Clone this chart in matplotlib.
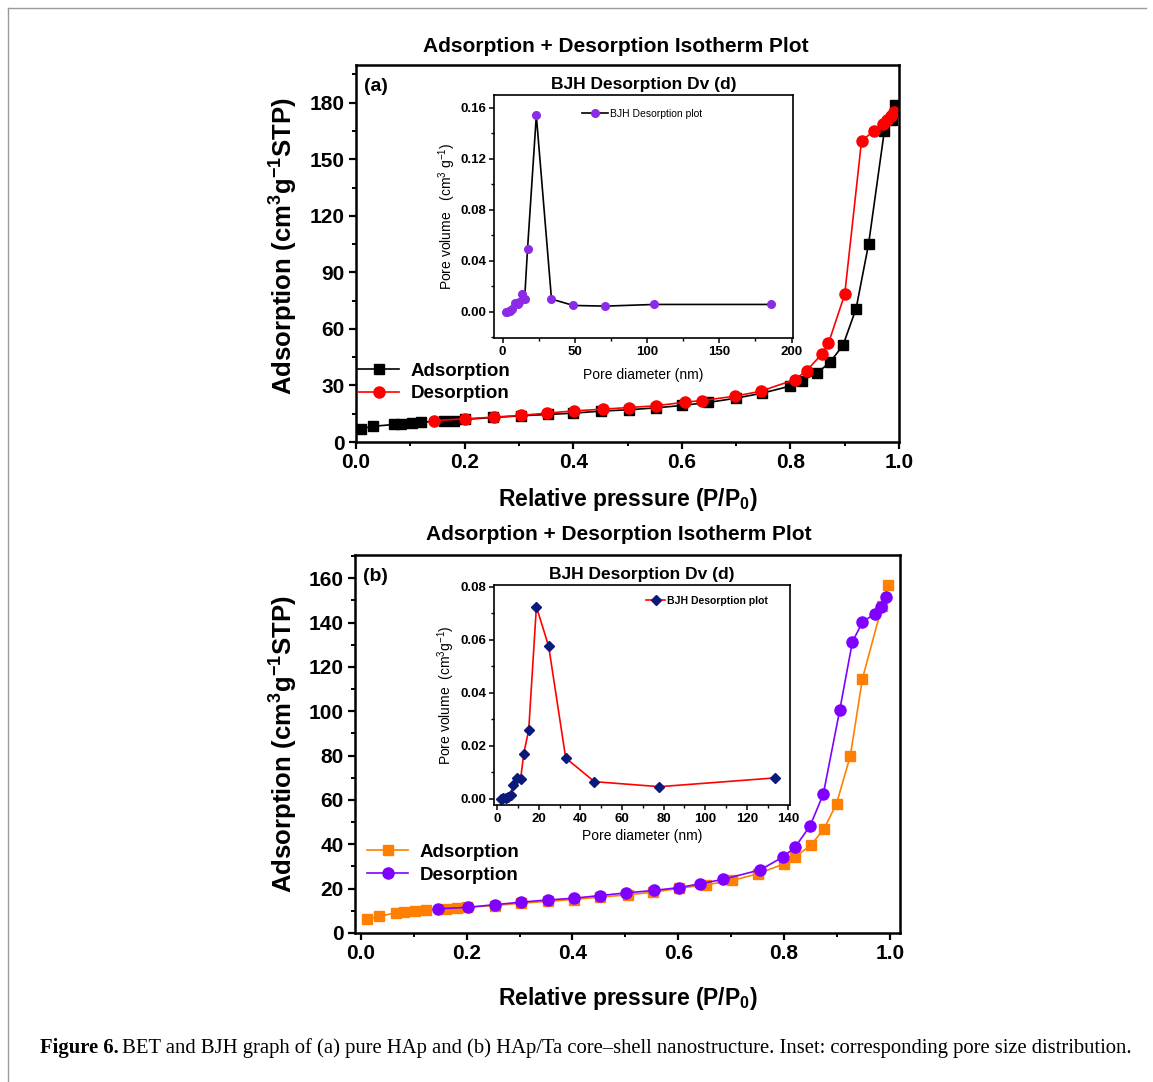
import numpy as np
import matplotlib
matplotlib.use('Agg')
import matplotlib.pyplot as plt
from matplotlib.lines import Line2D
from matplotlib.ticker import MultipleLocator

plt.rcParams['font.family'] = 'Liberation Sans'
plt.rcParams['mathtext.fontset'] = 'custom'
plt.rcParams['mathtext.rm'] = 'Liberation Sans'
plt.rcParams['mathtext.bf'] = 'Liberation Sans:bold'
plt.rcParams['mathtext.default'] = 'regular'

# === (a) pure HAp isotherm
a_ads_p = [0.009, 0.031, 0.07, 0.083, 0.104, 0.12, 0.162, 0.18, 0.2, 0.253, 0.303, 0.353,
           0.4, 0.452, 0.502, 0.552, 0.601, 0.649, 0.699, 0.748, 0.799, 0.822, 0.849, 0.873,
           0.897, 0.921, 0.944, 0.973, 0.988, 0.993]
a_ads_v = [7.0, 8.3, 9.3, 9.7, 10.0, 10.6, 10.9, 11.4, 12.0, 13.0, 13.9, 14.6,
           15.3, 16.4, 17.1, 18.1, 19.4, 21.0, 23.2, 25.9, 29.6, 32.6, 36.6, 42.3,
           51.4, 70.8, 105.0, 165.0, 171.0, 179.0]
a_des_p = [0.143, 0.2, 0.254, 0.303, 0.351, 0.401, 0.454, 0.503, 0.552, 0.605, 0.637, 0.698,
           0.745, 0.808, 0.83, 0.858, 0.87, 0.9, 0.931, 0.954, 0.97, 0.977, 0.986, 0.991]
a_des_v = [11.3, 12.3, 13.2, 14.1, 15.3, 16.5, 17.4, 18.3, 19.2, 21.1, 22.0, 24.3,
           26.9, 33.1, 37.9, 46.7, 52.3, 78.3, 159.7, 165.1, 168.5, 170.8, 172.9, 175.0]

# inset (a) BJH
a_bjh_d = [2.3, 3.3, 4.2, 5.0, 6.5, 8.3, 10.5, 11.5, 13.2, 15.2, 17.2, 23.3, 33.8, 49.0, 71.0, 105.0, 186.0]
a_bjh_v = [0.0, 0.0, 0.0003, 0.0005, 0.002, 0.007, 0.006, 0.0075, 0.014, 0.010, 0.049, 0.154,
           0.010, 0.005, 0.0045, 0.0058, 0.0058]

# === (b) HAp/Ta isotherm
b_ads_p = [0.012, 0.034, 0.066, 0.082, 0.102, 0.123, 0.161, 0.182, 0.2, 0.253, 0.302, 0.353,
           0.402, 0.452, 0.504, 0.553, 0.602, 0.652, 0.702, 0.75, 0.8, 0.821, 0.85, 0.875,
           0.899, 0.925, 0.948, 0.985, 0.997]
b_ads_v = [6.3, 7.5, 9.1, 9.4, 9.8, 10.4, 10.9, 11.2, 11.6, 12.4, 13.4, 14.3,
           15.1, 16.2, 17.2, 18.4, 20.2, 21.7, 23.7, 26.7, 31.2, 34.4, 39.5, 46.8,
           58.3, 79.8, 114.7, 147.5, 156.8]
b_des_p = [0.145, 0.203, 0.254, 0.302, 0.353, 0.403, 0.452, 0.502, 0.554, 0.602, 0.641, 0.685,
           0.755, 0.798, 0.821, 0.849, 0.874, 0.905, 0.929, 0.948, 0.971, 0.983, 0.992]
b_des_v = [10.9, 11.6, 12.8, 13.9, 14.9, 15.7, 16.9, 18.1, 19.2, 20.5, 22.2, 24.2,
           28.5, 34.3, 38.8, 48.3, 62.6, 100.4, 131.3, 140.2, 144.0, 147.0, 151.5]

# inset (b) BJH
b_bjh_d = [1.6, 2.7, 4.0, 5.3, 6.4, 7.5, 9.5, 11.2, 12.7, 15.1, 18.8, 24.7, 32.9, 46.7, 78.0, 133.4]
b_bjh_v = [0.0, 0.0003, 0.0005, 0.0007, 0.0013, 0.0052, 0.0079, 0.0074, 0.017, 0.026, 0.0724,
           0.0575, 0.0154, 0.0065, 0.0046, 0.0079]

W, H = 1153, 1082


def rect(l, t, r, b):
    return [l / W, 1 - b / H, (r - l) / W, (b - t) / H]


def style_main(ax, xmin, xmax, ymax, ymaj, ymin_step):
    ax.set_xlim(xmin, xmax)
    ax.set_ylim(0, ymax)
    ax.xaxis.set_major_locator(MultipleLocator(0.2))
    ax.xaxis.set_minor_locator(MultipleLocator(0.1))
    ax.yaxis.set_major_locator(MultipleLocator(ymaj))
    ax.yaxis.set_minor_locator(MultipleLocator(ymin_step))
    ax.xaxis.set_major_formatter(plt.FuncFormatter(lambda v, p: f'{v:.1f}'))
    ax.tick_params(which='major', direction='out', length=5, width=1.6, labelsize=15, pad=3)
    ax.tick_params(which='minor', direction='out', length=3, width=1.4)
    for lab in ax.get_xticklabels() + ax.get_yticklabels():
        lab.set_fontweight('bold')
    for s in ax.spines.values():
        s.set_linewidth(1.8)


def style_inset(ax):
    ax.tick_params(which='major', direction='out', length=3.5, width=1.1, labelsize=9.5, pad=2)
    ax.tick_params(which='minor', direction='out', length=2.5, width=1.0)
    for lab in ax.get_xticklabels() + ax.get_yticklabels():
        lab.set_fontweight('bold')
    for s in ax.spines.values():
        s.set_linewidth(1.2)


fig = plt.figure(figsize=(W / 100, H / 100), dpi=100)

# ---------------- panel (a)
ax1 = fig.add_axes(rect(356, 65, 899, 442))
ax1.plot(a_ads_p, a_ads_v, '-s', color='black', lw=1.2, ms=7, label='Adsorption')
ax1.plot(a_des_p, a_des_v, '-o', color='#ff0000', lw=1.2, ms=8, label='Desorption')
style_main(ax1, 0, 1.0, 200, 30, 15)
ax1.set_xlabel(r'Relative pressure (P/P$_{\mathbf{0}}$)', fontsize=16.5, fontweight='bold')
ax1.xaxis.set_label_coords(0.5, -0.116)
ax1.set_ylabel(r'Adsorption (cm$^{\mathbf{3}}$g$^{\mathbf{-1}}$STP)', fontsize=18.5, fontweight='bold')
ax1.yaxis.set_label_coords(-0.103, 0.52)
ax1.text(0.015, 0.965, '(a)', transform=ax1.transAxes, fontsize=14, fontweight='bold', va='top')
ax1.legend(loc='upper left', bbox_to_anchor=(0.004, 0.211), frameon=False,
           prop={'size': 13.5, 'weight': 'bold'}, handlelength=2.2, handletextpad=0.6,
           borderpad=0, borderaxespad=0, labelspacing=0.3)

ins1 = fig.add_axes(rect(494, 95, 793, 338))
ins1.plot(a_bjh_d, a_bjh_v, '-o', color='black', lw=1.2, ms=5.5,
          mfc='#8b2be8', mec='#8b2be8', label='BJH Desorption plot')
ins1.set_xlim(-6, 201)
ins1.set_ylim(-0.0205, 0.170)
ins1.xaxis.set_major_locator(MultipleLocator(50))
ins1.xaxis.set_minor_locator(MultipleLocator(25))
ins1.yaxis.set_major_locator(MultipleLocator(0.04))
ins1.yaxis.set_minor_locator(MultipleLocator(0.02))
ins1.yaxis.set_major_formatter(plt.FuncFormatter(lambda v, p: f'{v:.2f}'))
style_inset(ins1)
ins1.set_xlabel('Pore diameter (nm)', fontsize=10)
ins1.xaxis.set_label_coords(0.5, -0.125)
ins1.set_ylabel(r'Pore volume   (cm$^3$ g$^{-1}$)', fontsize=10)
ins1.yaxis.set_label_coords(-0.122, 0.5)
ins1.set_title('BJH Desorption Dv (d)', fontsize=12.5, fontweight='bold', pad=4)
ins1.legend(loc='center left', bbox_to_anchor=(0.294, 0.922), frameon=False,
            prop={'size': 7.5}, handlelength=2.5, handletextpad=0.2, borderpad=0, borderaxespad=0)

# ---------------- panel (b)
ax2 = fig.add_axes(rect(355, 555, 900, 933))
ax2.plot(b_ads_p, b_ads_v, '-s', color='#ff8000', lw=1.2, ms=7, label='Adsorption')
ax2.plot(b_des_p, b_des_v, '-o', color='#8000ff', lw=1.2, ms=8, label='Desorption')
style_main(ax2, -0.011, 1.019, 170.5, 20, 10)
ax2.set_xlabel(r'Relative pressure (P/P$_{\mathbf{0}}$)', fontsize=16.5, fontweight='bold')
ax2.xaxis.set_label_coords(0.5, -0.138)
ax2.set_ylabel(r'Adsorption (cm$^{\mathbf{3}}$g$^{\mathbf{-1}}$STP)', fontsize=18.5, fontweight='bold')
ax2.yaxis.set_label_coords(-0.1, 0.5)
ax2.text(0.015, 0.965, '(b)', transform=ax2.transAxes, fontsize=14, fontweight='bold', va='top')
ax2.legend(loc='upper left', bbox_to_anchor=(0.022, 0.236), frameon=False,
           prop={'size': 13.5, 'weight': 'bold'}, handlelength=2.2, handletextpad=0.6,
           borderpad=0, borderaxespad=0, labelspacing=0.3)

ins2 = fig.add_axes(rect(494, 585, 790, 805))
ins2.plot(b_bjh_d, b_bjh_v, '-D', color='#ff0000', lw=1.2, ms=5,
          mfc='#0a1a7a', mec='#0a1a7a', label='BJH Desorption plot')
ins2.set_xlim(-1.6, 140.8)
ins2.set_ylim(-0.0023, 0.0806)
ins2.xaxis.set_major_locator(MultipleLocator(20))
ins2.xaxis.set_minor_locator(MultipleLocator(10))
ins2.yaxis.set_major_locator(MultipleLocator(0.02))
ins2.yaxis.set_minor_locator(MultipleLocator(0.01))
ins2.yaxis.set_major_formatter(plt.FuncFormatter(lambda v, p: f'{v:.2f}'))
style_inset(ins2)
ins2.set_xlabel('Pore diameter (nm)', fontsize=10)
ins2.xaxis.set_label_coords(0.5, -0.11)
ins2.set_ylabel(r'Pore volume  (cm$^3$g$^{-1}$)', fontsize=10)
ins2.yaxis.set_label_coords(-0.124, 0.5)
ins2.set_title('BJH Desorption Dv (d)', fontsize=12.5, fontweight='bold', pad=4)
ins2.legend(loc='center left', bbox_to_anchor=(0.515, 0.927), frameon=False,
            prop={'size': 7.5, 'weight': 'bold'}, handlelength=1.8, handletextpad=0.2,
            borderpad=0, borderaxespad=0)

# ---------------- titles
fig.text(616 / W, 1 - 47 / H, 'Adsorption + Desorption Isotherm Plot', fontsize=15,
         fontweight='bold', ha='center', va='center')
fig.text(619 / W, 1 - 535 / H, 'Adsorption + Desorption Isotherm Plot', fontsize=15,
         fontweight='bold', ha='center', va='center')

# ---------------- caption
cap1 = fig.text(40 / W, 1 - 1048 / H, 'Figure 6.', fontsize=14.9, fontweight='bold',
                family='Liberation Serif', ha='left', va='center')
fig.canvas.draw()
bb = cap1.get_window_extent(fig.canvas.get_renderer())
fig.text((bb.x1 + 3) / W, 1 - 1048 / H,
         'BET and BJH graph of (a) pure HAp and (b) HAp/Ta core\u2013shell nanostructure. '
         'Inset: corresponding pore size distribution.',
         fontsize=14.9, family='Liberation Serif', ha='left', va='center')

# ---------------- page frame
fig.add_artist(Line2D([8 / W, 8 / W], [0, 1 - 8 / H], transform=fig.transFigure,
                      color='#9a9a9a', lw=1))
fig.add_artist(Line2D([8 / W, 1146 / W], [1 - 8 / H, 1 - 8 / H], transform=fig.transFigure,
                      color='#9a9a9a', lw=1))

fig.savefig('out.png', dpi=100, facecolor='white')
